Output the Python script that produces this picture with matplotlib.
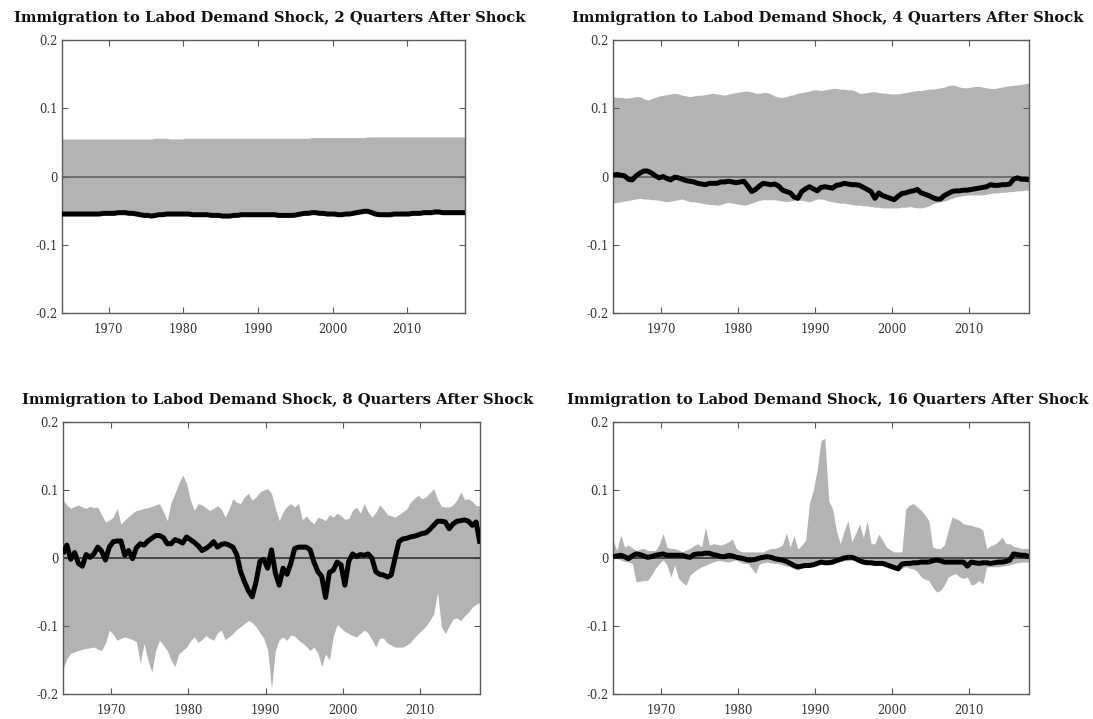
import numpy as np
import matplotlib
matplotlib.use("Agg")
import matplotlib.pyplot as plt

# Quarterly-dated grid sampled every half year, 1963Q4 .. 2017Q4
years = np.arange(1963.75, 2017.76, 0.5)

titles = [
    "Immigration to Labod Demand Shock, 2 Quarters After Shock",
    "Immigration to Labod Demand Shock, 4 Quarters After Shock",
    "Immigration to Labod Demand Shock, 8 Quarters After Shock",
    "Immigration to Labod Demand Shock, 16 Quarters After Shock",
]
ytick_vals = [-0.2, -0.1, 0.0, 0.1, 0.2]
ytick_labels = ["-0.2", "-0.1", "0", "0.1", "0.2"]
xtick_vals = [1970, 1980, 1990, 2000, 2010]
xtick_labels = ["1970", "1980", "1990", "2000", "2010"]

# ---- 2 quarters after shock ----
h2_resp = [
    -0.055, -0.055, -0.055, -0.055, -0.055, -0.055, -0.055, -0.055, -0.055, -0.055,
    -0.055, -0.054, -0.054, -0.054, -0.054, -0.053, -0.053, -0.053, -0.054, -0.054,
    -0.055, -0.056, -0.057, -0.057, -0.058, -0.057, -0.056, -0.056, -0.055, -0.055,
    -0.055, -0.055, -0.055, -0.055, -0.055, -0.056, -0.056, -0.056, -0.056, -0.056,
    -0.057, -0.057, -0.057, -0.058, -0.058, -0.058, -0.057, -0.057, -0.056, -0.056,
    -0.056, -0.056, -0.056, -0.056, -0.056, -0.056, -0.056, -0.056, -0.057, -0.057,
    -0.057, -0.057, -0.057, -0.056, -0.055, -0.054, -0.054, -0.053, -0.053, -0.054,
    -0.054, -0.055, -0.055, -0.055, -0.056, -0.056, -0.055, -0.055, -0.054, -0.053,
    -0.052, -0.051, -0.051, -0.053, -0.055, -0.056, -0.056, -0.056, -0.056, -0.055,
    -0.055, -0.055, -0.055, -0.055, -0.054, -0.054, -0.054, -0.053, -0.053, -0.053,
    -0.052, -0.052, -0.053, -0.053, -0.053, -0.053, -0.053, -0.053, -0.053,
]
h2_upper = [
    0.055, 0.055, 0.055, 0.055, 0.055, 0.055, 0.055, 0.055, 0.055, 0.055,
    0.055, 0.055, 0.055, 0.055, 0.055, 0.055, 0.055, 0.055, 0.055, 0.055,
    0.055, 0.055, 0.055, 0.055, 0.055, 0.056, 0.056, 0.056, 0.056, 0.055,
    0.055, 0.055, 0.055, 0.056, 0.056, 0.056, 0.056, 0.056, 0.056, 0.056,
    0.056, 0.056, 0.056, 0.056, 0.056, 0.056, 0.056, 0.056, 0.056, 0.056,
    0.056, 0.056, 0.056, 0.056, 0.056, 0.056, 0.056, 0.056, 0.056, 0.056,
    0.056, 0.056, 0.056, 0.056, 0.056, 0.056, 0.056, 0.057, 0.057, 0.057,
    0.057, 0.057, 0.057, 0.057, 0.057, 0.057, 0.057, 0.057, 0.057, 0.057,
    0.057, 0.057, 0.058, 0.058, 0.058, 0.058, 0.058, 0.058, 0.058, 0.058,
    0.058, 0.058, 0.058, 0.058, 0.058, 0.058, 0.058, 0.058, 0.058, 0.058,
    0.058, 0.058, 0.058, 0.058, 0.058, 0.058, 0.058, 0.058, 0.058,
]
h2_lower = [
    -0.052, -0.052, -0.052, -0.052, -0.052, -0.052, -0.052, -0.052, -0.052, -0.052,
    -0.052, -0.051, -0.051, -0.051, -0.051, -0.050, -0.050, -0.050, -0.051, -0.051,
    -0.052, -0.053, -0.054, -0.054, -0.055, -0.054, -0.053, -0.053, -0.052, -0.052,
    -0.052, -0.052, -0.052, -0.052, -0.052, -0.053, -0.053, -0.053, -0.053, -0.053,
    -0.054, -0.054, -0.054, -0.055, -0.055, -0.055, -0.054, -0.054, -0.053, -0.053,
    -0.053, -0.053, -0.053, -0.053, -0.053, -0.053, -0.053, -0.053, -0.054, -0.054,
    -0.054, -0.054, -0.054, -0.053, -0.052, -0.051, -0.051, -0.050, -0.050, -0.051,
    -0.051, -0.052, -0.052, -0.052, -0.053, -0.053, -0.052, -0.052, -0.051, -0.050,
    -0.049, -0.048, -0.048, -0.050, -0.052, -0.053, -0.053, -0.053, -0.053, -0.052,
    -0.052, -0.052, -0.052, -0.052, -0.051, -0.051, -0.051, -0.050, -0.050, -0.050,
    -0.049, -0.049, -0.050, -0.050, -0.050, -0.050, -0.050, -0.050, -0.050,
]

# ---- 4 quarters after shock ----
h4_resp = [
    0.002, 0.003, 0.002, 0.001, -0.004, -0.005, 0.001, 0.005, 0.008, 0.008,
    0.005, 0.001, -0.002, 0.000, -0.003, -0.005, -0.001, -0.002, -0.004, -0.006,
    -0.007, -0.008, -0.010, -0.011, -0.012, -0.010, -0.010, -0.010, -0.008, -0.008,
    -0.007, -0.008, -0.009, -0.008, -0.007, -0.014, -0.022, -0.019, -0.014, -0.010,
    -0.011, -0.012, -0.011, -0.014, -0.020, -0.022, -0.024, -0.030, -0.032, -0.022,
    -0.018, -0.015, -0.018, -0.021, -0.016, -0.015, -0.016, -0.017, -0.013, -0.012,
    -0.010, -0.011, -0.012, -0.012, -0.013, -0.016, -0.019, -0.022, -0.032, -0.024,
    -0.028, -0.030, -0.032, -0.034, -0.029, -0.025, -0.024, -0.022, -0.021, -0.019,
    -0.024, -0.026, -0.028, -0.031, -0.033, -0.033, -0.028, -0.025, -0.022, -0.021,
    -0.021, -0.020, -0.020, -0.019, -0.018, -0.017, -0.016, -0.015, -0.012, -0.013,
    -0.013, -0.012, -0.012, -0.011, -0.004, -0.002, -0.004, -0.004, -0.005,
]
h4_upper = [
    0.117, 0.116, 0.116, 0.115, 0.115, 0.116, 0.117, 0.117, 0.114, 0.112,
    0.114, 0.116, 0.118, 0.119, 0.120, 0.121, 0.122, 0.121, 0.119, 0.118,
    0.117, 0.118, 0.119, 0.119, 0.120, 0.121, 0.122, 0.121, 0.120, 0.119,
    0.121, 0.122, 0.123, 0.124, 0.125, 0.125, 0.124, 0.122, 0.122, 0.123,
    0.123, 0.121, 0.118, 0.116, 0.116, 0.117, 0.119, 0.120, 0.122, 0.123,
    0.124, 0.125, 0.127, 0.127, 0.126, 0.127, 0.128, 0.129, 0.129, 0.128,
    0.128, 0.127, 0.127, 0.125, 0.122, 0.122, 0.123, 0.124, 0.124, 0.123,
    0.122, 0.122, 0.121, 0.121, 0.121, 0.122, 0.123, 0.124, 0.125, 0.126,
    0.126, 0.127, 0.128, 0.128, 0.129, 0.130, 0.131, 0.133, 0.134, 0.133,
    0.131, 0.130, 0.130, 0.131, 0.132, 0.132, 0.131, 0.130, 0.129, 0.129,
    0.130, 0.131, 0.132, 0.133, 0.134, 0.134, 0.135, 0.136, 0.137,
]
h4_lower = [
    -0.039, -0.038, -0.037, -0.036, -0.035, -0.034, -0.033, -0.032, -0.033, -0.033,
    -0.034, -0.034, -0.035, -0.036, -0.037, -0.036, -0.035, -0.034, -0.033, -0.035,
    -0.037, -0.037, -0.038, -0.039, -0.040, -0.041, -0.041, -0.042, -0.041, -0.039,
    -0.038, -0.039, -0.040, -0.041, -0.042, -0.041, -0.039, -0.037, -0.035, -0.034,
    -0.034, -0.034, -0.034, -0.035, -0.036, -0.037, -0.036, -0.035, -0.034, -0.035,
    -0.036, -0.037, -0.035, -0.033, -0.033, -0.034, -0.036, -0.037, -0.038, -0.039,
    -0.039, -0.040, -0.041, -0.042, -0.042, -0.043, -0.043, -0.044, -0.045, -0.045,
    -0.046, -0.046, -0.046, -0.046, -0.046, -0.045, -0.045, -0.044, -0.045, -0.046,
    -0.046, -0.045, -0.043, -0.040, -0.038, -0.037, -0.036, -0.034, -0.032, -0.030,
    -0.029, -0.028, -0.027, -0.027, -0.027, -0.027, -0.027, -0.026, -0.025, -0.024,
    -0.024, -0.023, -0.023, -0.022, -0.022, -0.021, -0.021, -0.020, -0.020,
]

# ---- 8 quarters after shock ----
h8_resp = [
    0.006, 0.019, -0.002, 0.008, -0.008, -0.012, 0.005, 0.001, 0.006, 0.016,
    0.010, -0.003, 0.016, 0.024, 0.025, 0.025, 0.004, 0.011, -0.001, 0.015,
    0.021, 0.019, 0.025, 0.029, 0.033, 0.033, 0.030, 0.021, 0.021, 0.027,
    0.025, 0.022, 0.031, 0.027, 0.023, 0.018, 0.011, 0.014, 0.018, 0.024,
    0.016, 0.020, 0.021, 0.019, 0.016, 0.005, -0.020, -0.035, -0.048, -0.057,
    -0.035, -0.005, -0.002, -0.015, 0.012, -0.022, -0.040, -0.015, -0.024, -0.008,
    0.014, 0.016, 0.016, 0.016, 0.012, -0.006, -0.020, -0.027, -0.058, -0.021,
    -0.018, -0.006, -0.010, -0.040, -0.005, 0.006, 0.002, 0.005, 0.004, 0.006,
    0.000, -0.020, -0.024, -0.025, -0.028, -0.025, 0.000, 0.024, 0.028, 0.029,
    0.031, 0.032, 0.034, 0.036, 0.037, 0.042, 0.048, 0.054, 0.054, 0.053,
    0.043, 0.050, 0.054, 0.055, 0.056, 0.054, 0.048, 0.053, 0.021,
]
h8_upper = [
    0.085, 0.078, 0.073, 0.076, 0.078, 0.075, 0.073, 0.076, 0.074, 0.075,
    0.063, 0.053, 0.056, 0.060, 0.073, 0.050, 0.056, 0.061, 0.066, 0.070,
    0.071, 0.073, 0.074, 0.076, 0.078, 0.080, 0.068, 0.055, 0.082, 0.095,
    0.110, 0.122, 0.110, 0.085, 0.070, 0.080, 0.078, 0.074, 0.070, 0.073,
    0.077, 0.072, 0.060, 0.072, 0.087, 0.082, 0.080, 0.090, 0.095, 0.085,
    0.090, 0.097, 0.100, 0.102, 0.095, 0.073, 0.055, 0.068, 0.076, 0.080,
    0.075, 0.080, 0.056, 0.062, 0.055, 0.050, 0.060, 0.058, 0.055, 0.064,
    0.060, 0.066, 0.062, 0.057, 0.058, 0.070, 0.075, 0.066, 0.080, 0.068,
    0.060, 0.067, 0.078, 0.072, 0.064, 0.062, 0.060, 0.064, 0.068, 0.072,
    0.082, 0.088, 0.092, 0.087, 0.090, 0.096, 0.102, 0.086, 0.076, 0.075,
    0.075, 0.078, 0.085, 0.097, 0.086, 0.087, 0.083, 0.077, 0.077,
]
h8_lower = [
    -0.163, -0.148, -0.140, -0.138, -0.136, -0.134, -0.133, -0.132, -0.131, -0.134,
    -0.136, -0.125, -0.106, -0.112, -0.121, -0.118, -0.116, -0.118, -0.120, -0.123,
    -0.155, -0.126, -0.150, -0.168, -0.136, -0.121, -0.128, -0.136, -0.150, -0.160,
    -0.141, -0.136, -0.131, -0.122, -0.116, -0.124, -0.120, -0.114, -0.118, -0.121,
    -0.110, -0.106, -0.120, -0.116, -0.111, -0.105, -0.101, -0.096, -0.092, -0.095,
    -0.101, -0.110, -0.118, -0.135, -0.192, -0.136, -0.120, -0.116, -0.121, -0.113,
    -0.115, -0.121, -0.125, -0.130, -0.136, -0.131, -0.140, -0.160, -0.141, -0.150,
    -0.115, -0.098, -0.103, -0.108, -0.111, -0.114, -0.116, -0.111, -0.106, -0.110,
    -0.120, -0.131, -0.118, -0.118, -0.125, -0.128, -0.131, -0.131, -0.131, -0.128,
    -0.124, -0.117, -0.111, -0.106, -0.100, -0.092, -0.082, -0.050, -0.101, -0.111,
    -0.100, -0.090, -0.088, -0.092, -0.085, -0.080, -0.072, -0.068, -0.065,
]

# ---- 16 quarters after shock ----
h16_resp = [
    0.002, 0.003, 0.004, 0.002, -0.001, 0.003, 0.006, 0.005, 0.003, 0.001,
    0.002, 0.004, 0.005, 0.006, 0.004, 0.004, 0.004, 0.004, 0.004, 0.002,
    0.001, 0.005, 0.006, 0.006, 0.007, 0.007, 0.005, 0.004, 0.002, 0.002,
    0.004, 0.003, 0.001, 0.000, -0.001, -0.003, -0.003, -0.002, 0.000, 0.001,
    0.002, 0.001, -0.001, -0.002, -0.003, -0.005, -0.008, -0.011, -0.013, -0.012,
    -0.011, -0.011, -0.010, -0.008, -0.006, -0.007, -0.007, -0.006, -0.004, -0.002,
    0.000, 0.001, 0.001, -0.001, -0.004, -0.006, -0.007, -0.007, -0.008, -0.008,
    -0.008, -0.010, -0.012, -0.014, -0.016, -0.009, -0.008, -0.008, -0.007, -0.007,
    -0.006, -0.006, -0.006, -0.004, -0.003, -0.004, -0.006, -0.006, -0.006, -0.006,
    -0.006, -0.006, -0.012, -0.006, -0.007, -0.008, -0.007, -0.007, -0.008, -0.007,
    -0.006, -0.006, -0.005, -0.003, 0.006, 0.005, 0.004, 0.004, 0.002,
]
h16_upper = [
    0.026, 0.011, 0.034, 0.016, 0.019, 0.015, 0.011, 0.013, 0.014, 0.011,
    0.011, 0.011, 0.020, 0.036, 0.016, 0.014, 0.014, 0.012, 0.009, 0.012,
    0.014, 0.018, 0.021, 0.016, 0.045, 0.019, 0.021, 0.020, 0.019, 0.021,
    0.024, 0.028, 0.014, 0.010, 0.009, 0.009, 0.009, 0.009, 0.009, 0.009,
    0.012, 0.014, 0.014, 0.016, 0.019, 0.037, 0.016, 0.033, 0.013, 0.019,
    0.026, 0.080, 0.100, 0.130, 0.173, 0.176, 0.085, 0.072, 0.040, 0.021,
    0.040, 0.055, 0.024, 0.036, 0.050, 0.030, 0.055, 0.021, 0.021, 0.035,
    0.026, 0.016, 0.012, 0.009, 0.009, 0.009, 0.072, 0.078, 0.080, 0.075,
    0.070, 0.063, 0.055, 0.016, 0.014, 0.014, 0.019, 0.040, 0.060, 0.058,
    0.055, 0.050, 0.049, 0.048, 0.046, 0.045, 0.041, 0.014, 0.018, 0.020,
    0.024, 0.031, 0.021, 0.021, 0.017, 0.016, 0.014, 0.014, 0.014,
]
h16_lower = [
    0.002, 0.000, -0.003, -0.005, -0.006, -0.008, -0.035, -0.034, -0.033, -0.033,
    -0.025, -0.015, -0.008, -0.003, -0.010, -0.028, -0.010, -0.030, -0.036, -0.040,
    -0.025, -0.020, -0.016, -0.013, -0.011, -0.008, -0.006, -0.004, -0.004, -0.005,
    -0.006, -0.004, -0.003, -0.006, -0.008, -0.008, -0.015, -0.023, -0.009, -0.007,
    -0.006, -0.007, -0.008, -0.008, -0.010, -0.012, -0.013, -0.016, -0.018, -0.014,
    -0.013, -0.012, -0.011, -0.009, -0.008, -0.008, -0.007, -0.006, -0.006, -0.005,
    -0.004, -0.004, -0.003, -0.004, -0.005, -0.006, -0.006, -0.007, -0.007, -0.008,
    -0.008, -0.010, -0.013, -0.016, -0.018, -0.015, -0.013, -0.015, -0.016, -0.020,
    -0.028, -0.031, -0.033, -0.043, -0.050, -0.048, -0.040, -0.028, -0.025, -0.023,
    -0.028, -0.030, -0.028, -0.040, -0.038, -0.033, -0.038, -0.013, -0.013, -0.013,
    -0.013, -0.012, -0.011, -0.010, -0.008, -0.007, -0.006, -0.006, -0.006,
]

panels = [
    (h2_resp, h2_lower, h2_upper),
    (h4_resp, h4_lower, h4_upper),
    (h8_resp, h8_lower, h8_upper),
    (h16_resp, h16_lower, h16_upper),
]

W, H = 1093, 719
# axes boxes in pixel units: left, top, right, bottom
boxes = [
    (62, 40, 465, 313),
    (613, 40, 1029, 313),
    (63, 422, 480, 694),
    (613, 422, 1029, 694),
]

plt.rcParams["font.family"] = ["DejaVu Serif"]

fig = plt.figure(figsize=(W / 100, H / 100), dpi=100)
fig.patch.set_facecolor("white")

band_color = "#b3b3b3"
frame_color = "#5a5a5a"

for k, ((resp, lo, hi), title, (l, t, r, b)) in enumerate(zip(panels, titles, boxes)):
    ax = fig.add_axes([l / W, 1 - b / H, (r - l) / W, (b - t) / H])
    resp = np.asarray(resp)
    lo = np.asarray(lo)
    hi = np.asarray(hi)
    ax.fill_between(years, lo, hi, color=band_color, linewidth=0, zorder=1)
    zcol = "#5f5f5f" if k < 2 else "#2a2a2a"
    ax.axhline(0, color=zcol, linewidth=1.1, zorder=2)
    ax.plot(years, resp, color="black", linewidth=3.6, solid_joinstyle="round",
            solid_capstyle="butt", zorder=3)
    ax.set_xlim(1963.75, 2017.75)
    ax.set_ylim(-0.2, 0.2)
    ax.set_yticks(ytick_vals)
    ax.set_yticklabels(ytick_labels)
    ax.set_xticks(xtick_vals)
    ax.set_xticklabels(xtick_labels)
    ax.tick_params(direction="in", top=True, right=True, length=4, width=0.8,
                   color=frame_color, labelsize=8.3, labelcolor="#333333")
    ax.tick_params(axis="x", pad=7)
    ax.tick_params(axis="y", pad=3)
    for s in ax.spines.values():
        s.set_color(frame_color)
        s.set_linewidth(1.0)
    cx = (l + r) / 2
    base_y = t - 18
    fig.text(cx / W + 0.006, 1 - base_y / H, title, ha="center", va="baseline",
             fontsize=10.6, fontweight="bold", color="#111111")

fig.savefig("out.png", dpi=100)
